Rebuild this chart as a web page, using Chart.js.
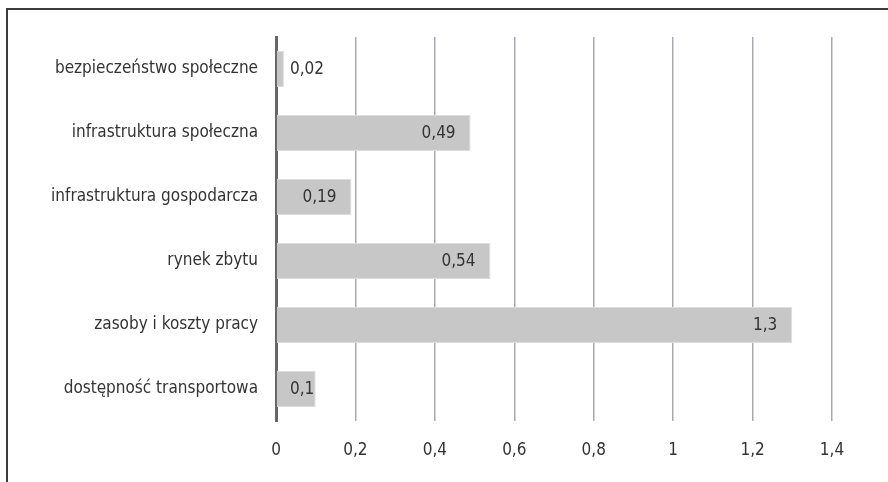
<!DOCTYPE html>
<html>
<head>
<meta charset="utf-8">
<script src="https://cdn.jsdelivr.net/npm/chart.js@4/dist/chart.umd.min.js"></script>
<style>
  html, body { margin: 0; padding: 0; background: #fff; }
  #wrap { position: relative; width: 888px; height: 482px; overflow: hidden; }
  #frame {
    position: absolute; left: 6px; top: 8px; width: 900px; height: 500px;
    border-left: 2px solid #3c3c3c; border-top: 2px solid #3c3c3c;
  }
  canvas { position: absolute; left: 0; top: 0; }
</style>
</head>
<body>
<div id="wrap">
  <div id="frame"></div>
  <canvas id="chart" width="888" height="482"></canvas>
</div>
<script>
const categories = [
    'bezpieczeństwo społeczne',
    'infrastruktura społeczna',
    'infrastruktura gospodarcza',
    'rynek zbytu',
    'zasoby i koszty pracy',
    'dostępność transportowa'
];
const values = [0.02, 0.49, 0.19, 0.54, 1.3, 0.1];
const xTicks = [0, 0.2, 0.4, 0.6, 0.8, 1, 1.2, 1.4];

const FONT = '"Liberation Sans Narrow", "DejaVu Sans Condensed", "Roboto Condensed", sans-serif';
const TEXT = '#333333';

function plFormat(v) {
    return String(Math.round(v * 100) / 100).replace('.', ',');
}

// value labels: inside the bar end, pushed right when the bar is too short
const valueLabels = {
    id: 'valueLabels',
    afterDatasetsDraw(chart) {
        const ctx = chart.ctx;
        const meta = chart.getDatasetMeta(0);
        const zero = chart.scales.x.getPixelForValue(0);
        ctx.save();
        ctx.font = '17px ' + FONT;
        ctx.fillStyle = TEXT;
        ctx.textBaseline = 'middle';
        ctx.textAlign = 'left';
        meta.data.forEach((bar, i) => {
            const txt = plFormat(values[i]);
            const w = ctx.measureText(txt).width;
            const x = Math.max(bar.x - 15 - w, zero + 14);
            ctx.fillText(txt, x, bar.y + 1);
        });
        ctx.restore();
    }
};

new Chart(document.getElementById('chart'), {
    type: 'bar',
    data: {
        labels: categories,
        datasets: [{
            data: values,
            backgroundColor: '#c6c7c6',
            borderColor: '#dedede',
            borderWidth: 1,
            barPercentage: 1,
            categoryPercentage: 0.5625
        }]
    },
    plugins: [valueLabels],
    options: {
        indexAxis: 'y',
        responsive: false,
        animation: false,
        layout: { padding: { top: 37, right: 56, left: 0, bottom: 0 } },
        plugins: {
            legend: { display: false },
            tooltip: { enabled: false }
        },
        scales: {
            x: {
                min: 0,
                max: 1.4,
                afterBuildTicks: (scale) => {
                    scale.ticks = xTicks.map(v => ({ value: v }));
                },
                afterFit: (scale) => { scale.height = 61; },
                border: { display: false },
                grid: {
                    drawTicks: false,
                    color: (c) => c.tick && c.tick.value === 0 ? 'rgba(0,0,0,0)' : '#a9a9b2',
                    lineWidth: 1.5
                },
                ticks: {
                    padding: 19,
                    color: TEXT,
                    font: { size: 17, family: FONT },
                    callback: (v) => plFormat(v)
                }
            },
            y: {
                afterFit: (scale) => { scale.width = 276; },
                border: { display: true, color: '#666666', width: 3 },
                grid: { display: false, drawTicks: false },
                ticks: {
                    padding: 18,
                    color: TEXT,
                    font: { size: 17, family: FONT }
                }
            }
        }
    }
});
</script>
</body>
</html>
